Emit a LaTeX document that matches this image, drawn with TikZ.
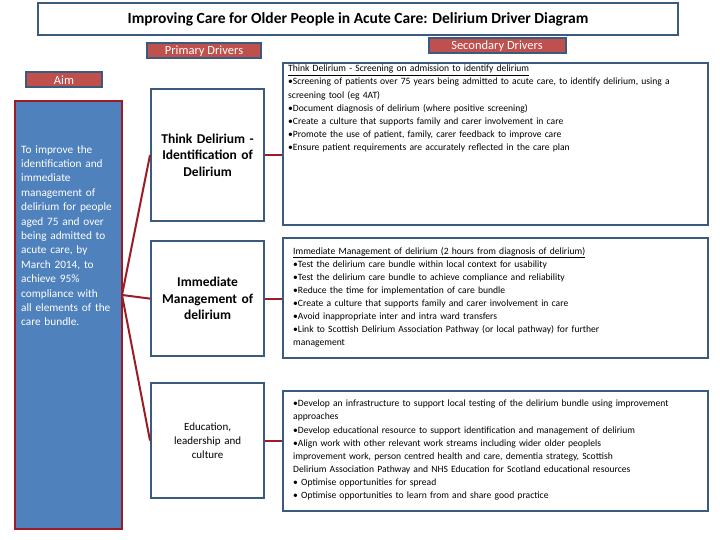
\documentclass[tikz,border=0pt]{standalone}
\usepackage{fontspec}
\setmainfont{Carlito}
\definecolor{bord}{HTML}{3B5A80}
\definecolor{lab}{HTML}{C0504D}
\definecolor{aimf}{HTML}{4F81BD}
\definecolor{dred}{HTML}{9B1B26}
\begin{document}
\hyphenpenalty=10000 \exhyphenpenalty=10000
\begin{tikzpicture}[x=1pt,y=-1pt,
 box/.style={draw=bord,line width=2.2pt,fill=white},
 lbl/.style={draw=bord,line width=2pt,fill=lab,text=white,inner sep=1pt,font=\fontsize{12.5}{13}\selectfont},
 con/.style={draw=dred,line width=2pt},
 prim/.style={font=\fontsize{13.5}{16.5}\selectfont\bfseries,align=center},
 sec/.style={font=\fontsize{9.6}{13.1}\selectfont,align=left,anchor=north west,text width=418pt,inner sep=0pt}]
\useasboundingbox (0,0) rectangle (720,540);
\node[box,minimum width=640pt,minimum height=32pt,anchor=north west,font=\fontsize{15.5}{16}\selectfont\bfseries] (title) at (37,2) {Improving Care for Older People in Acute Care: Delirium Driver Diagram};
\node[lbl,minimum width=114pt,minimum height=15pt] (pd) at (204,51) {Primary Drivers};
\node[lbl,minimum width=137pt,minimum height=15pt] (sd) at (497,46) {Secondary Drivers};
\node[lbl,minimum width=76pt,minimum height=15pt] (al) at (64,80) {Aim};
\node[draw=dred,line width=2.4pt,fill=aimf,minimum width=107pt,minimum height=428pt,anchor=north west] (aim) at (14,100) {};
\node[anchor=north west,text=white,text width=104pt,inner sep=0pt,align=left,font=\fontsize{11.3}{14.4}\selectfont] (aimt) at (21,145) {To improve the\\ identification and\\ immediate\\ management of\\ delirium for people\\ aged 75 and over\\ being admitted to\\ acute care, by\\ March 2014, to\\ achieve 95\%\\ compliance with\\ all elements of the\\ care bundle.};
\node[box,prim,minimum width=113pt,minimum height=132pt,anchor=north west,text width=105pt] (p1) at (150,88) {Think Delirium -\\ Identification of\\ Delirium};
\node[box,prim,minimum width=113pt,minimum height=115pt,anchor=north west,text width=105pt] (p2) at (150,240) {Immediate\\ Management of\\ delirium};
\node[box,prim,minimum width=113pt,minimum height=115pt,anchor=north west,text width=105pt,font=\fontsize{11}{14}\selectfont] (p3) at (150,382) {Education,\\ leadership and\\ culture};
\node[box,minimum width=425pt,minimum height=162pt,anchor=north west] (s1) at (282,62) {};
\node[box,minimum width=425pt,minimum height=120pt,anchor=north west] (s2) at (282,237) {};
\node[box,minimum width=425pt,minimum height=120pt,anchor=north west] (s3) at (282,390) {};
\node[sec] (t1) at (288,65) {\underline{Think Delirium - Screening on admission to identify delirium}\\
\textbullet Screening of patients over 75 years being admitted to acute care, to identify delirium, using a screening tool (eg 4AT)\\
\textbullet Document diagnosis of delirium (where positive screening)\\
\textbullet Create a culture that supports family and carer involvement in care\\
\textbullet Promote the use of patient, family, carer feedback to improve care\\
\textbullet Ensure patient requirements are accurately reflected in the care plan};
\node[sec,text width=360pt] (t2) at (293,247) {\underline{Immediate Management of delirium (2 hours from diagnosis of delirium)}\\
\textbullet Test the delirium care bundle within local context for usability\\
\textbullet Test the delirium care bundle to achieve compliance and reliability\\
\textbullet Reduce the time for implementation of care bundle\\
\textbullet Create a culture that supports family and carer involvement in care\\
\textbullet Avoid inappropriate inter and intra ward transfers\\
\textbullet Link to Scottish Delirium Association Pathway (or local pathway) for further management};
\node[sec,text width=395pt] (t3) at (293,400) {\textbullet Develop an infrastructure to support local testing of the delirium bundle using improvement approaches\\
\textbullet Develop educational resource to support identification and management of delirium\\
\textbullet Align work with other relevant work streams including wider older peoplels\\ improvement work, person centred health and care,  dementia strategy, Scottish\\ Delirium Association Pathway and NHS Education for Scotland educational resources\\
\textbullet\ Optimise opportunities for spread\\
\textbullet\ Optimise opportunities to learn from and share good practice};
\coordinate (hub) at (122,295);
\draw[con] (hub) -- (p1.west);
\draw[con] (hub) -- (p2.west);
\draw[con] (hub) -- (p3.west);
\draw[con] (p1.east) -- (s1.west|-p1.east);
\draw[con] (p2.east) -- (s2.west|-p2.east);
\draw[con] (p3.east) -- (s3.west|-p3.east);
\end{tikzpicture}
\end{document}
